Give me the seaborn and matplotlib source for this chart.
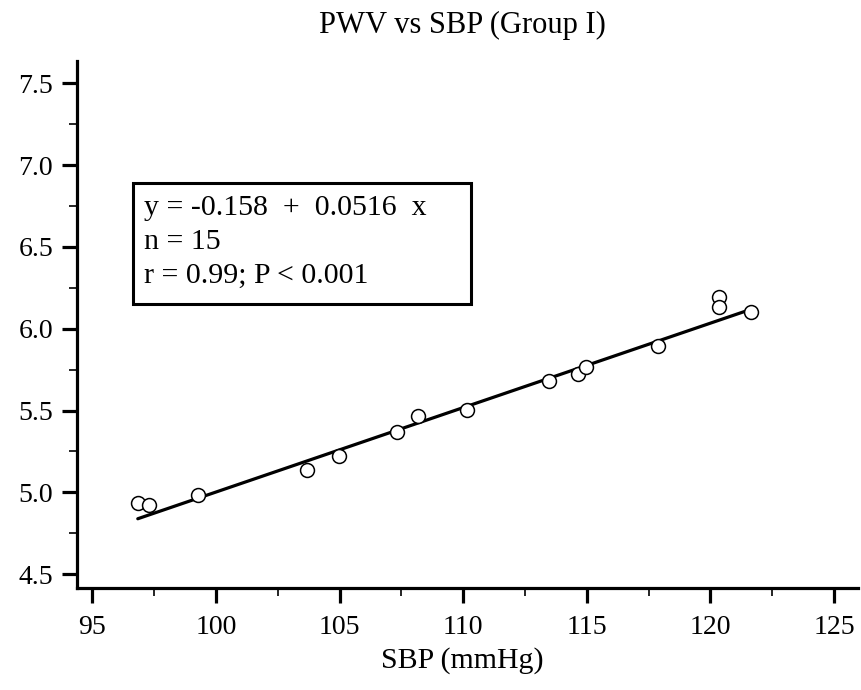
import matplotlib
matplotlib.use("Agg")
import matplotlib.pyplot as plt
import seaborn as sns
import numpy as np
import pandas as pd
from matplotlib.ticker import MultipleLocator

# Data
sbp = [96.84, 97.29, 99.29, 103.70, 104.99, 107.34, 108.18, 110.17,
       113.49, 114.66, 114.96, 117.87, 120.36, 120.36, 121.63]
pwv = [4.935, 4.924, 4.985, 5.134, 5.224, 5.369, 5.466, 5.503,
       5.683, 5.724, 5.768, 5.897, 6.193, 6.134, 6.103]
intercept = -0.158
slope = 0.0516
title = "PWV vs SBP (Group I)"
xlabel = "SBP (mmHg)"
stats_lines = ["y = -0.158  +  0.0516  x", "n = 15", "r = 0.99; P < 0.001"]
x_ticks = [95, 100, 105, 110, 115, 120, 125]
y_ticks = [4.5, 5.0, 5.5, 6.0, 6.5, 7.0, 7.5]

sns.set_style("ticks")
plt.rcParams['font.family'] = ['Liberation Serif', 'DejaVu Serif']
plt.rcParams.update({
    'text.color': 'black', 'axes.labelcolor': 'black',
    'xtick.color': 'black', 'ytick.color': 'black',
    'axes.edgecolor': 'black',
})

fig = plt.figure(figsize=(8.61, 6.9), dpi=100)
ax = fig.add_axes([0.0891, 0.1474, 0.9962 - 0.0891, 0.9116 - 0.1474])

df = pd.DataFrame({"SBP": sbp, "PWV": pwv})
xfit = np.array([min(sbp), max(sbp)])
fit = pd.DataFrame({"SBP": xfit, "PWV": intercept + slope * xfit})

sns.lineplot(data=fit, x="SBP", y="PWV", ax=ax, color="black", linewidth=2.3, zorder=2)
sns.scatterplot(data=df, x="SBP", y="PWV", ax=ax, marker="o", s=100,
                facecolor="white", edgecolor="black", linewidth=1.1, zorder=3)

ax.set_xlim(94.37, 125.96)
ax.set_ylim(4.414, 7.636)
ax.set_xticks(x_ticks)
ax.set_yticks(y_ticks)
ax.set_yticklabels([f"{v:.1f}" for v in y_ticks])
ax.xaxis.set_minor_locator(MultipleLocator(2.5))
ax.yaxis.set_minor_locator(MultipleLocator(0.25))
ax.tick_params(which="major", length=11, width=2.3, labelsize=20, color="black")
ax.tick_params(axis="x", which="major", pad=8)
ax.tick_params(axis="y", which="major", pad=6)
ax.tick_params(which="minor", length=5.5, width=1.2, color="black")

for s in ["top", "right"]:
    ax.spines[s].set_visible(False)
for s in ["left", "bottom"]:
    ax.spines[s].set_linewidth(2.3)
    ax.spines[s].set_color("black")

ax.set_xlabel("")
ax.set_ylabel("")
fig.text(462 / 861, 1 - 668 / 690, xlabel, ha="center", va="baseline", fontsize=21.5)

fig.text(462 / 861, 1 - 33 / 690, title, ha="center", va="baseline", fontsize=22)

# stats box
ax.add_patch(plt.Rectangle((133.3 / 861, 1 - 304 / 690), (470.7 - 133.3) / 861, (304 - 183.3) / 690,
                           transform=fig.transFigure, fill=False, edgecolor="black",
                           linewidth=2.2, zorder=5, clip_on=False))
for i, line in enumerate(stats_lines):
    fig.text(144 / 861, 1 - (215 + 34 * i) / 690, line, ha="left", va="baseline", fontsize=21.5)

fig.savefig("out.png", dpi=100)
